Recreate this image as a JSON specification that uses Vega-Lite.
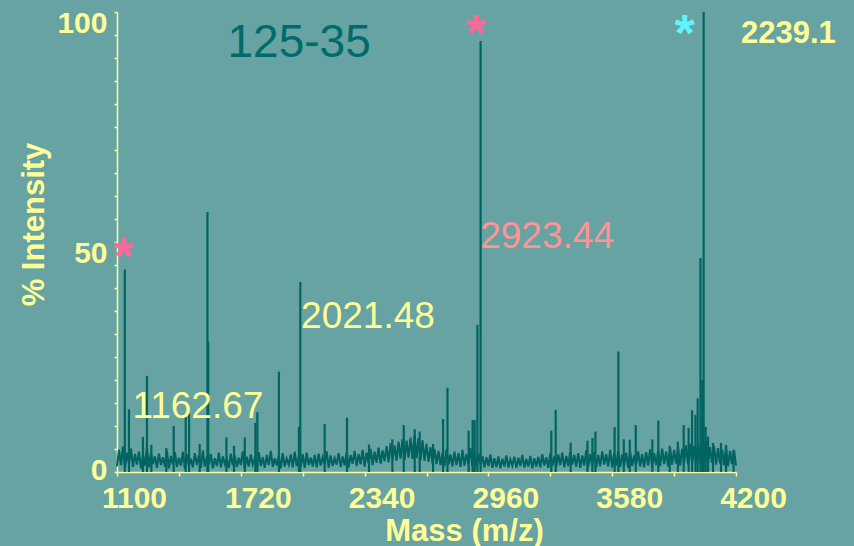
{
  "$schema": "https://vega.github.io/schema/vega-lite/v6.json",
  "width": 619,
  "height": 460,
  "autosize": {"type": "none"},
  "padding": {"left": 117, "top": 12, "right": 118, "bottom": 74},
  "background": "#67a3a3",
  "config": {"view": {"stroke": null}, "font": "Liberation Sans"},
  "datasets": {
    "noise": [
      {"m":1100,"i":1.2},{"m":1110,"i":4.8},{"m":1120,"i":1.5},{"m":1130,"i":5.6},{"m":1140,"i":0.9},{"m":1150,"i":4.2},{"m":1160,"i":1.8},{"m":1170,"i":5.1},{"m":1180,"i":1.1},{"m":1190,"i":3.9},
      {"m":1200,"i":1.6},{"m":1210,"i":4.5},{"m":1220,"i":0.8},{"m":1230,"i":3.7},{"m":1240,"i":1.4},{"m":1250,"i":5.3},{"m":1260,"i":1.0},{"m":1270,"i":4.1},{"m":1280,"i":1.7},{"m":1290,"i":3.4},
      {"m":1300,"i":0.9},{"m":1310,"i":4.0},{"m":1320,"i":1.5},{"m":1330,"i":3.2},{"m":1340,"i":1.2},{"m":1350,"i":4.6},{"m":1360,"i":0.8},{"m":1370,"i":3.5},{"m":1380,"i":1.6},{"m":1390,"i":4.3},
      {"m":1400,"i":1.1},{"m":1410,"i":3.1},{"m":1420,"i":1.4},{"m":1430,"i":4.4},{"m":1440,"i":0.7},{"m":1450,"i":3.8},{"m":1460,"i":1.3},{"m":1470,"i":2.9},{"m":1480,"i":1.0},{"m":1490,"i":4.1},
      {"m":1500,"i":1.5},{"m":1510,"i":3.6},{"m":1520,"i":0.9},{"m":1530,"i":4.7},{"m":1540,"i":1.2},{"m":1550,"i":3.3},{"m":1560,"i":1.6},{"m":1570,"i":3.9},{"m":1580,"i":0.8},{"m":1590,"i":3.0},
      {"m":1600,"i":1.3},{"m":1610,"i":4.2},{"m":1620,"i":1.0},{"m":1630,"i":3.4},{"m":1640,"i":1.7},{"m":1650,"i":2.8},{"m":1660,"i":0.9},{"m":1670,"i":4.0},{"m":1680,"i":1.4},{"m":1690,"i":3.6},
      {"m":1700,"i":1.1},{"m":1710,"i":3.1},{"m":1720,"i":1.5},{"m":1730,"i":4.5},{"m":1740,"i":0.8},{"m":1750,"i":3.3},{"m":1760,"i":1.2},{"m":1770,"i":3.8},{"m":1780,"i":1.6},{"m":1790,"i":2.9},
      {"m":1800,"i":1.0},{"m":1810,"i":4.3},{"m":1820,"i":1.3},{"m":1830,"i":3.2},{"m":1840,"i":0.9},{"m":1850,"i":3.7},{"m":1860,"i":1.5},{"m":1870,"i":4.6},{"m":1880,"i":1.1},{"m":1890,"i":3.0},
      {"m":1900,"i":1.4},{"m":1910,"i":3.5},{"m":1920,"i":0.8},{"m":1930,"i":4.1},{"m":1940,"i":1.2},{"m":1950,"i":2.9},{"m":1960,"i":1.6},{"m":1970,"i":3.8},{"m":1980,"i":1.0},{"m":1990,"i":4.4},
      {"m":2000,"i":1.3},{"m":2010,"i":3.3},{"m":2020,"i":1.1},{"m":2030,"i":3.9},{"m":2040,"i":0.9},{"m":2050,"i":4.2},{"m":2060,"i":1.5},{"m":2070,"i":3.1},{"m":2080,"i":1.2},{"m":2090,"i":3.7},
      {"m":2100,"i":1.0},{"m":2110,"i":4.0},{"m":2120,"i":1.4},{"m":2130,"i":3.2},{"m":2140,"i":1.7},{"m":2150,"i":4.5},{"m":2160,"i":0.9},{"m":2170,"i":3.6},{"m":2180,"i":1.3},{"m":2190,"i":3.0},
      {"m":2200,"i":1.6},{"m":2210,"i":4.1},{"m":2220,"i":1.1},{"m":2230,"i":3.4},{"m":2240,"i":1.4},{"m":2250,"i":4.3},{"m":2260,"i":1.0},{"m":2270,"i":3.7},{"m":2280,"i":1.8},{"m":2290,"i":4.6},
      {"m":2300,"i":1.3},{"m":2310,"i":3.9},{"m":2320,"i":1.7},{"m":2330,"i":4.8},{"m":2340,"i":1.2},{"m":2350,"i":4.2},{"m":2360,"i":1.9},{"m":2370,"i":5.0},{"m":2380,"i":1.5},{"m":2390,"i":4.4},
      {"m":2400,"i":2.0},{"m":2410,"i":5.3},{"m":2420,"i":1.8},{"m":2430,"i":4.7},{"m":2440,"i":2.3},{"m":2450,"i":5.6},{"m":2460,"i":2.1},{"m":2470,"i":6.2},{"m":2480,"i":2.6},{"m":2490,"i":5.8},
      {"m":2500,"i":2.4},{"m":2510,"i":6.6},{"m":2520,"i":2.9},{"m":2530,"i":7.1},{"m":2540,"i":2.5},{"m":2550,"i":6.8},{"m":2560,"i":3.1},{"m":2570,"i":7.5},{"m":2580,"i":2.8},{"m":2590,"i":8.0},
      {"m":2600,"i":3.0},{"m":2610,"i":7.4},{"m":2620,"i":2.6},{"m":2630,"i":6.9},{"m":2640,"i":2.4},{"m":2650,"i":6.1},{"m":2660,"i":2.2},{"m":2670,"i":5.4},{"m":2680,"i":1.9},{"m":2690,"i":5.0},
      {"m":2700,"i":1.7},{"m":2710,"i":4.6},{"m":2720,"i":1.5},{"m":2730,"i":4.2},{"m":2740,"i":1.3},{"m":2750,"i":4.9},{"m":2760,"i":1.6},{"m":2770,"i":3.8},{"m":2780,"i":1.2},{"m":2790,"i":4.4},
      {"m":2800,"i":1.5},{"m":2810,"i":4.1},{"m":2820,"i":1.1},{"m":2830,"i":4.8},{"m":2840,"i":1.4},{"m":2850,"i":3.9},{"m":2860,"i":1.7},{"m":2870,"i":5.2},{"m":2880,"i":1.3},{"m":2890,"i":4.5},
      {"m":2900,"i":1.2},{"m":2910,"i":4.0},{"m":2920,"i":1.6},{"m":2930,"i":3.5},{"m":2940,"i":1.0},{"m":2950,"i":3.2},{"m":2960,"i":1.3},{"m":2970,"i":3.8},{"m":2980,"i":0.9},{"m":2990,"i":3.0},
      {"m":3000,"i":1.1},{"m":3010,"i":3.4},{"m":3020,"i":0.8},{"m":3030,"i":2.9},{"m":3040,"i":1.2},{"m":3050,"i":3.6},{"m":3060,"i":1.0},{"m":3070,"i":2.7},{"m":3080,"i":1.4},{"m":3090,"i":3.3},
      {"m":3100,"i":0.9},{"m":3110,"i":3.1},{"m":3120,"i":1.3},{"m":3130,"i":3.7},{"m":3140,"i":1.0},{"m":3150,"i":2.8},{"m":3160,"i":1.2},{"m":3170,"i":3.5},{"m":3180,"i":0.8},{"m":3190,"i":3.0},
      {"m":3200,"i":1.2},{"m":3210,"i":3.3},{"m":3220,"i":1.0},{"m":3230,"i":3.9},{"m":3240,"i":1.4},{"m":3250,"i":3.2},{"m":3260,"i":0.9},{"m":3270,"i":4.0},{"m":3280,"i":1.3},{"m":3290,"i":3.4},
      {"m":3300,"i":1.1},{"m":3310,"i":3.8},{"m":3320,"i":1.5},{"m":3330,"i":4.2},{"m":3340,"i":1.0},{"m":3350,"i":3.5},{"m":3360,"i":1.3},{"m":3370,"i":4.4},{"m":3380,"i":1.6},{"m":3390,"i":3.7},
      {"m":3400,"i":1.2},{"m":3410,"i":4.1},{"m":3420,"i":0.9},{"m":3430,"i":3.6},{"m":3440,"i":1.4},{"m":3450,"i":4.7},{"m":3460,"i":1.1},{"m":3470,"i":3.9},{"m":3480,"i":1.5},{"m":3490,"i":4.3},
      {"m":3500,"i":1.0},{"m":3510,"i":3.7},{"m":3520,"i":1.3},{"m":3530,"i":4.5},{"m":3540,"i":1.6},{"m":3550,"i":3.9},{"m":3560,"i":1.2},{"m":3570,"i":4.8},{"m":3580,"i":1.0},{"m":3590,"i":4.0},
      {"m":3600,"i":1.4},{"m":3610,"i":4.6},{"m":3620,"i":1.1},{"m":3630,"i":3.8},{"m":3640,"i":1.5},{"m":3650,"i":4.2},{"m":3660,"i":0.9},{"m":3670,"i":4.4},{"m":3680,"i":1.3},{"m":3690,"i":3.6},
      {"m":3700,"i":1.6},{"m":3710,"i":4.5},{"m":3720,"i":1.2},{"m":3730,"i":3.9},{"m":3740,"i":1.0},{"m":3750,"i":4.3},{"m":3760,"i":1.4},{"m":3770,"i":4.9},{"m":3780,"i":1.1},{"m":3790,"i":4.1},
      {"m":3800,"i":1.5},{"m":3810,"i":4.6},{"m":3820,"i":1.3},{"m":3830,"i":5.1},{"m":3840,"i":1.7},{"m":3850,"i":4.4},{"m":3860,"i":1.2},{"m":3870,"i":5.3},{"m":3880,"i":1.6},{"m":3890,"i":4.8},
      {"m":3900,"i":1.8},{"m":3910,"i":5.5},{"m":3920,"i":1.4},{"m":3930,"i":5.0},{"m":3940,"i":2.0},{"m":3950,"i":5.8},{"m":3960,"i":1.6},{"m":3970,"i":6.1},{"m":3980,"i":1.9},{"m":3990,"i":5.6},
      {"m":4000,"i":2.1},{"m":4010,"i":6.3},{"m":4020,"i":1.8},{"m":4030,"i":5.9},{"m":4040,"i":2.2},{"m":4050,"i":6.6},{"m":4060,"i":1.7},{"m":4070,"i":5.4},{"m":4080,"i":2.0},{"m":4090,"i":5.7},
      {"m":4100,"i":1.6},{"m":4110,"i":5.2},{"m":4120,"i":1.9},{"m":4130,"i":4.9},{"m":4140,"i":1.5},{"m":4150,"i":5.5},{"m":4160,"i":1.3},{"m":4170,"i":4.6},{"m":4180,"i":1.7},{"m":4190,"i":4.8},
      {"m":4200,"i":1.4}
    ],
    "peaks": [
      {"m":1139,"i":44},{"m":1160,"i":13.6},{"m":1230,"i":7.6},{"m":1250,"i":20.9},{"m":1272,"i":5.9},{"m":1347,"i":5.2},{"m":1384,"i":10},{"m":1444,"i":12.4},{"m":1461,"i":12.8},{"m":1514,"i":6.1},
      {"m":1553,"i":56.5},{"m":1557,"i":28.3},{"m":1648,"i":7.5},{"m":1686,"i":5.7},{"m":1740,"i":7.5},{"m":1793,"i":10.7},{"m":1803,"i":13},{"m":1911,"i":21.8},{"m":2011,"i":9.8},{"m":2018,"i":41.3},
      {"m":2140,"i":10.4},{"m":2252,"i":11.8},{"m":2362,"i":6},{"m":2479,"i":7.1},{"m":2536,"i":10.2},{"m":2591,"i":9.3},{"m":2616,"i":8.8},{"m":2683,"i":6.1},{"m":2733,"i":11.5},{"m":2755,"i":18.3},
      {"m":2861,"i":9},{"m":2881,"i":11.3},{"m":2891,"i":11.3},{"m":2905,"i":32},{"m":2921,"i":93.7},{"m":3275,"i":9},{"m":3297,"i":13.5},{"m":3372,"i":6.4},{"m":3456,"i":6.8},{"m":3481,"i":7.4},
      {"m":3496,"i":8.8},{"m":3592,"i":9.8},{"m":3611,"i":26.2},{"m":3638,"i":7.1},{"m":3668,"i":7},{"m":3698,"i":10.2},{"m":3781,"i":7.1},{"m":3811,"i":11.2},{"m":3868,"i":5.7},{"m":3909,"i":6.6},
      {"m":3938,"i":10.2},{"m":3963,"i":9.6},{"m":3980,"i":13.4},{"m":3997,"i":12.4},{"m":4008,"i":16},{"m":4022,"i":46.5},{"m":4031,"i":20},{"m":4038,"i":100},{"m":4048,"i":9.8},{"m":4060,"i":7.7},
      {"m":4085,"i":6.3},{"m":4125,"i":6.3},{"m":4150,"i":5.9},{"m":4188,"i":4.8}
    ]
  },
  "encoding": {
    "x": {
      "field": "m", "type": "quantitative",
      "scale": {"domain": [1100, 4200], "nice": false, "zero": false},
      "axis": {
        "title": "Mass (m/z)",
        "values": [1100, 1410, 1720, 2030, 2340, 2650, 2960, 3270, 3580, 3890, 4200],
        "format": "d",
        "labelExpr": "(datum.value - 1100) % 620 == 0 ? datum.label : ''",
        "grid": false,
        "domainColor": "#ffff99", "domainWidth": 1.5,
        "tickColor": "#ffff99", "tickSize": 4, "tickWidth": 1.5,
        "labelColor": "#ffff99", "labelFont": "Liberation Sans", "labelFontSize": 30, "labelFontWeight": "bold",
        "labelBaseline": "alphabetic", "labelPadding": 31, "labelOffset": 17,
        "labelFlush": false, "labelOverlap": false, "labelBound": false,
        "titleColor": "#ffff99", "titleFont": "Liberation Sans", "titleFontSize": 31, "titleFontWeight": "bold",
        "titleAlign": "center", "titleBaseline": "alphabetic", "titleX": 347, "titleY": 68
      }
    },
    "y": {
      "field": "i", "type": "quantitative",
      "scale": {"domain": [0, 100], "nice": false},
      "axis": {
        "title": "% Intensity",
        "values": [0, 5, 10, 15, 20, 25, 30, 35, 40, 45, 50, 55, 60, 65, 70, 75, 80, 85, 90, 95, 100],
        "labelExpr": "datum.value % 50 == 0 ? datum.label : ''",
        "grid": false,
        "domainColor": "#ffff99", "domainWidth": 1.5,
        "tickColor": "#ffff99", "tickSize": 3, "tickWidth": 1.5,
        "labelColor": "#ffff99", "labelFont": "Liberation Sans", "labelFontSize": 30, "labelFontWeight": "bold",
        "labelBaseline": "alphabetic", "labelAlign": "right", "labelPadding": 7,
        "labelOffset": {"condition": {"test": "datum.value == 0", "value": 7}, "value": 20},
        "labelFlush": false, "labelOverlap": false, "labelBound": false,
        "titleColor": "#ffff99", "titleFont": "Liberation Sans", "titleFontSize": 31, "titleFontWeight": "bold",
        "titleAngle": -90, "titleAlign": "center", "titleBaseline": "alphabetic", "titleX": -74, "titleY": 212
      }
    }
  },
  "layer": [
    {
      "data": {"name": "noise"},
      "mark": {"type": "line", "color": "#006461", "strokeWidth": 2.1}
    },
    {
      "data": {"name": "peaks"},
      "mark": {"type": "rule", "color": "#006461", "strokeWidth": 2.2},
      "encoding": {"y2": {"datum": 0}}
    },
    {
      "data": {"values": [{"m": 4200}]},
      "mark": {"type": "rule", "color": "#ffff99", "strokeWidth": 1.5},
      "encoding": {"y": {"datum": 0}, "y2": {"datum": 100}}
    },
    {
      "data": {"values": [{"m": 2012, "i": 90.3, "label": "125-35"}]},
      "mark": {"type": "text", "font": "Liberation Sans", "fontSize": 46, "color": "#006b6b", "align": "center", "baseline": "alphabetic"},
      "encoding": {"text": {"field": "label"}}
    },
    {
      "data": {"values": [{"m": 2919, "i": 48.7, "label": "2923.44"}]},
      "mark": {"type": "text", "font": "Liberation Sans", "fontSize": 37, "color": "#ff9494", "align": "left", "baseline": "alphabetic"},
      "encoding": {"text": {"field": "label"}}
    },
    {
      "data": {"values": [{"m": 2022, "i": 31.3, "label": "2021.48"}, {"m": 1177, "i": 11.7, "label": "1162.67"}]},
      "mark": {"type": "text", "font": "Liberation Sans", "fontSize": 37, "color": "#ffff99", "align": "left", "baseline": "alphabetic"},
      "encoding": {"text": {"field": "label"}}
    },
    {
      "data": {"values": [{"m": 4200, "i": 93.2, "label": "2239.1"}]},
      "mark": {"type": "text", "font": "Liberation Sans", "fontSize": 31, "fontWeight": "bold", "color": "#ffff99", "align": "left", "baseline": "alphabetic", "dx": 5},
      "encoding": {"text": {"field": "label"}}
    },
    {
      "data": {"values": [{"m": 1135, "i": 43.0, "label": "*"}, {"m": 2900, "i": 91.6, "label": "*"}]},
      "mark": {"type": "text", "font": "Liberation Sans", "fontSize": 52, "fontWeight": "bold", "color": "#ff6699", "align": "center", "baseline": "alphabetic"},
      "encoding": {"text": {"field": "label"}}
    },
    {
      "data": {"values": [{"m": 3943, "i": 91.5, "label": "*"}]},
      "mark": {"type": "text", "font": "Liberation Sans", "fontSize": 52, "fontWeight": "bold", "color": "#5ff5ff", "align": "center", "baseline": "alphabetic"},
      "encoding": {"text": {"field": "label"}}
    }
  ]
}
